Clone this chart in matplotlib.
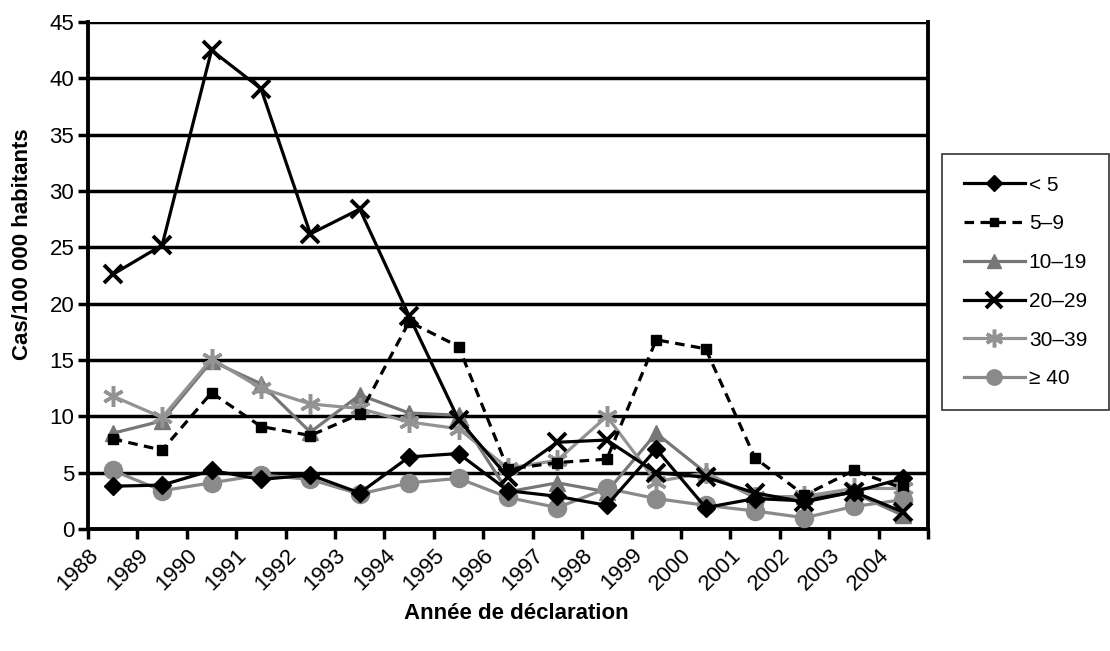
import matplotlib
matplotlib.use("Agg")
import matplotlib.pyplot as plt
import numpy as np

plt.rcParams['font.family'] = ['Liberation Sans', 'DejaVu Sans']

years = ["1988", "1989", "1990", "1991", "1992", "1993", "1994", "1995", "1996",
         "1997", "1998", "1999", "2000", "2001", "2002", "2003", "2004"]

lt5 = [3.8, 3.9, 5.2, 4.4, 4.8, 3.2, 6.4, 6.7, 3.4, 2.9, 2.1, 7.1, 1.9, 2.7, 2.5, 3.3, 4.5]
s5_9 = [8.0, 7.0, 12.1, 9.1, 8.3, 10.2, 18.4, 16.2, 5.3, 5.9, 6.2, 16.8, 16.0, 6.3, 3.0, 5.2, 3.6]
s10_19 = [8.5, 9.6, 14.9, 12.9, 8.6, 11.9, 10.3, 10.1, 3.3, 4.1, 3.3, 8.5, 5.0, 2.8, 2.9, 3.2, 1.2]
s20_29 = [22.6, 25.2, 42.5, 39.1, 26.2, 28.4, 18.9, 9.7, 4.6, 7.7, 7.9, 5.0, 4.6, 3.2, 2.4, 3.3, 1.5]
s30_39 = [11.8, 9.9, 15.1, 12.5, 11.1, 10.7, 9.5, 8.9, 5.4, 6.1, 10.0, 4.2, 5.0, 2.8, 2.9, 3.6, 3.6]
ge40 = [5.2, 3.4, 4.1, 4.8, 4.4, 3.1, 4.1, 4.5, 2.8, 1.9, 3.6, 2.7, 2.1, 1.6, 1.0, 2.0, 2.6]

labels = ["< 5", "5\u20139", "10\u201319", "20\u201329", "30\u201339", "\u2265 40"]

fig = plt.figure(figsize=(11.1, 6.51), dpi=100)
ax = fig.add_axes([0.0793, 0.1874, 0.7567, 0.7786])

x = np.arange(len(years)) + 0.5
lw = 2.3
ax.plot(x, lt5, color='black', lw=lw, marker='D', ms=9, label=labels[0], zorder=5)
ax.plot(x, s5_9, color='black', lw=lw, ls=(0, (3, 2)), marker='s', ms=7, label=labels[1], zorder=4)
ax.plot(x, s10_19, color='#777777', lw=lw, marker='^', ms=12, label=labels[2], zorder=3)
ax.plot(x, s20_29, color='black', lw=lw, marker='x', ms=13, mew=2.8, label=labels[3], zorder=6)
ax.plot(x, s30_39, color='#939393', lw=lw, marker=(6, 2, 0), ms=15, mew=2.5, label=labels[4], zorder=3)
ax.plot(x, ge40, color='#8a8a8a', lw=lw, marker='o', ms=13, label=labels[5], zorder=4)

ax.set_xlim(0, len(years))
ax.set_ylim(0, 45)
ax.set_xticks(np.arange(len(years) + 1))
ax.set_xticklabels(years + [""], rotation=45, ha='right', rotation_mode='anchor')
ax.set_yticks(np.arange(0, 46, 5))
ax.yaxis.grid(True, color='black', lw=2.5)
ax.set_axisbelow(True)
for s in ['left', 'bottom', 'right']:
    ax.spines[s].set_linewidth(2.8)
ax.spines['top'].set_visible(False)
ax.tick_params(axis='both', direction='out', length=7, width=2.5, labelsize=16, colors='black')
ax.tick_params(axis='x', pad=4)
ax.tick_params(axis='y', pad=3)

ax.set_ylabel("Cas/100 000 habitants", fontsize=16, fontweight='bold')
ax.yaxis.set_label_coords(-0.065, 0.562)
fig.text(0.465, 0.058, "Ann\u00e9e de d\u00e9claration", fontsize=16, fontweight='bold',
         ha='center', va='center')

leg = fig.legend(loc='upper left', bbox_to_anchor=(0.849, 0.764), fontsize=15,
                 frameon=True, fancybox=False, edgecolor='black', handlelength=2.9,
                 labelspacing=0.95, borderpad=1.05, handletextpad=0.2, markerscale=0.85,
                 borderaxespad=0)
leg.get_frame().set_linewidth(1.2)

fig.savefig("out.png", dpi=100, facecolor='white')
